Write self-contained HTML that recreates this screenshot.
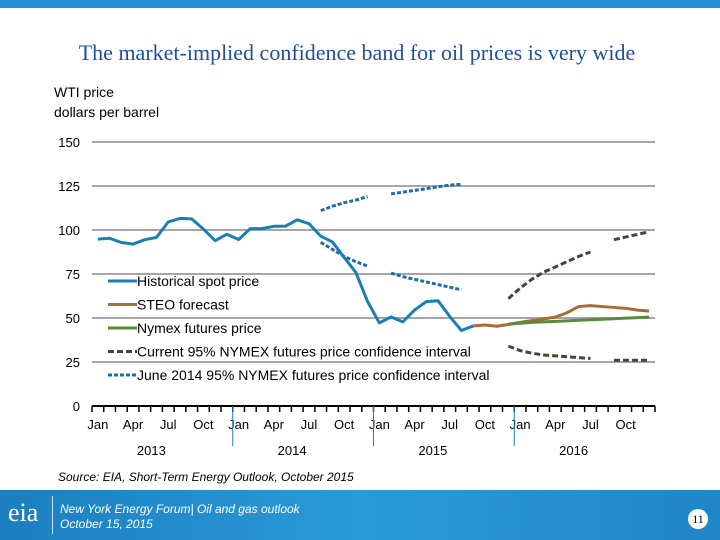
<!DOCTYPE html>
<html><head><meta charset="utf-8"><style>
body{margin:0;width:720px;height:540px;overflow:hidden;background:#fff;font-family:"Liberation Sans",sans-serif;position:relative}
.t{position:absolute;white-space:nowrap}
</style></head><body>
<div style="position:absolute;left:0;top:0;width:720px;height:8px;background:#1e8fd2"></div>
<div class="t" style="left:0;width:714px;text-align:center;top:40px;font-family:'Liberation Serif',serif;font-size:22px;color:#1f4e9e">The market-implied confidence band for oil prices is very wide</div>
<div class="t" style="left:54px;top:82px;font-size:14px;line-height:20px;color:#000">WTI price<br>dollars per barrel</div>
<svg id="c" width="720" height="540" style="position:absolute;left:0;top:0"></svg>
<div class="t" style="left:58px;top:470px;font-size:12px;font-style:italic">Source: EIA, Short-Term Energy Outlook, October 2015</div>
<div style="position:absolute;left:0;top:490px;width:720px;height:50px;background:linear-gradient(90deg,#1b7fc0,#2a9ad8 50%,#1f86c8)">
<div class="t" style="left:8px;top:8px;font-family:'Liberation Serif',serif;font-size:26px;color:#fff">eia</div>
<div style="position:absolute;left:52px;top:6px;width:1px;height:38px;background:#cfe6f5"></div>
<div class="t" style="left:60px;top:12px;font-size:12px;font-style:italic;color:#fff;line-height:15px">New York Energy Forum| Oil and gas outlook<br>October 15, 2015</div>
<div style="position:absolute;left:688px;top:19px;width:20px;height:20px;border-radius:50%;background:#fff;font-family:'Liberation Serif',serif;font-size:12px;text-align:center;line-height:20px">11</div>
</div>
<script>
const yTicks=[0,25,50,75,100,125,150];
const monthLabels=["Jan","Apr","Jul","Oct"];
const years=["2013","2014","2015","2016"];
const spot=[94.8,95.3,92.9,92.0,94.5,95.8,104.6,106.6,106.3,100.5,93.9,97.6,94.6,100.8,100.8,102.1,102.2,105.8,103.6,96.5,93.2,84.4,75.8,59.3,47.2,50.6,47.8,54.5,59.3,59.8,50.9,42.9,45.5];
const steoStart=32;
const steo=[45.5,46,45.3,46.3,47.5,48.5,49.5,50.5,53,56.5,57,56.5,56,55.5,54.5,54];
const nymexStart=35;
const nymex=[46.5,47,47.5,47.8,48.1,48.4,48.7,49,49.3,49.6,49.9,50.2,50.5];
const curStart=35;
const curUpper=[61,67,72,76,79,82,85,87.5,null,94.5,96,97.5,99];
const curLower=[34,31.5,30,29,28.5,28,27.5,27,null,26,26,26,26];
const junStart=19;
const junUpper=[111,113.5,115.5,117,119,null,120.5,121.5,122.5,123.5,124.5,125.5,126];
const junLower=[93,89,85,82,79.5,null,75.5,73.5,72,70.5,69,67.5,66];
const legendItems=["Historical spot price","STEO forecast","Nymex futures price","Current 95% NYMEX futures price confidence interval","June 2014 95% NYMEX futures price confidence interval"];
const legendColors=["#1a7fb5","#a86c34","#5a8a3a","#3d4a30","#1a6fa8"];
const legendDash=["","","","6,3","4,2"];

const svg=document.getElementById('c');const NS='http://www.w3.org/2000/svg';
const X0=92,X1=655,N=48,Y0=406,YS=1.76;
const x=i=>X0+(i+0.5)*(X1-X0)/N;
const y=v=>Y0-v*YS;
function mk(t,a){const e=document.createElementNS(NS,t);for(const k in a)e.setAttribute(k,a[k]);svg.appendChild(e);return e;}
yTicks.forEach(v=>{
 if(v>0){const g=mk('line',{x1:92,x2:655,y1:y(v),y2:y(v),stroke:'#a6a6a6','stroke-width':2});
 
 }
 const t=mk('text',{x:80,y:y(v)+5,'text-anchor':'end','font-size':13,'font-family':'Liberation Sans'});t.textContent=v;
 
 
});
const ax=mk('line',{x1:X0,x2:X1,y1:Y0,y2:Y0,stroke:'#000','stroke-width':2});


for(let i=0;i<=N;i++){const tk=mk('line',{x1:X0+i*(X1-X0)/N,x2:X0+i*(X1-X0)/N,y1:Y0,y2:Y0+6,stroke:'#000','stroke-width':1.5});
 
 }
for(let yr=0;yr<4;yr++){
 monthLabels.forEach((m,k)=>{const t=mk('text',{x:x(yr*12+k*3),y:429,'text-anchor':'middle','font-size':13,'font-family':'Liberation Sans'});t.textContent=m;
 
 });
 const t=mk('text',{x:(x(yr*12)+x(yr*12+11))/2-11,y:455,'text-anchor':'middle','font-size':13,'font-family':'Liberation Sans'});t.textContent=years[yr];
 
 
 if(yr>0){const d=mk('line',{x1:X0+yr*12*(X1-X0)/N,x2:X0+yr*12*(X1-X0)/N,y1:Y0,y2:446,stroke:'#1a7fb5','stroke-width':1});
 
 }
}
function line(vals,start,color,dash,w,name){
 let segs=[],cur=[];
 vals.forEach((v,i)=>{if(v==null){if(cur.length)segs.push(cur);cur=[];}else cur.push(x(start+i)+','+y(v));});
 if(cur.length)segs.push(cur);
 segs.forEach(s=>{const p=mk('polyline',{points:s.join(' '),fill:'none',stroke:color,'stroke-width':w,'stroke-dasharray':dash,'stroke-linejoin':'round'});
 
 });
}
line(junUpper,junStart,legendColors[4],legendDash[4],3,'june2014-upper-band');
line(junLower,junStart,legendColors[4],legendDash[4],3,'june2014-lower-band');
line(curUpper,curStart,legendColors[3],legendDash[3],3,'current-upper-band');
line(curLower,curStart,legendColors[3],legendDash[3],3,'current-lower-band');
line(steo,steoStart,legendColors[1],'',3,'steo-forecast-line');
line(nymex,nymexStart,legendColors[2],'',3,'nymex-futures-line');
line(spot,0,legendColors[0],'',3,'historical-spot-line');
legendItems.forEach((s,i)=>{const ly=281+i*23.5;
 const l=mk('line',{x1:108,x2:137,y1:ly,y2:ly,stroke:legendColors[i],'stroke-width':3,'stroke-dasharray':legendDash[i]});
 
 
 const t=mk('text',{x:137,y:ly+5,'font-size':14,'font-family':'Liberation Sans'});t.textContent=s;
 
 
});
</script>
</body></html>
